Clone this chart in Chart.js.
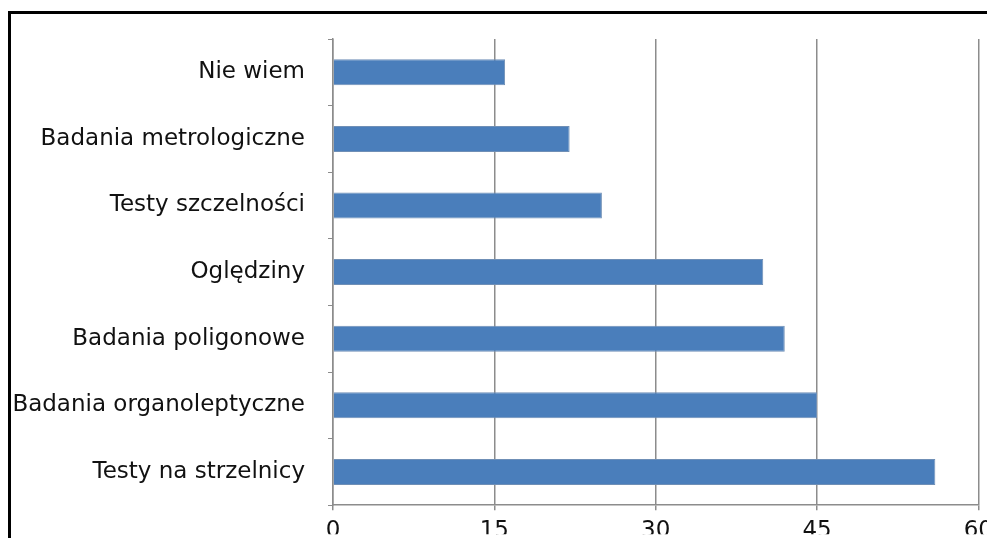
<!DOCTYPE html>
<html>
<head>
<meta charset="utf-8">
<script src="https://cdn.jsdelivr.net/npm/chart.js@4"></script>
<style>
  body { margin: 0; width: 987px; height: 538px; overflow: hidden; background: #fff; position: relative; }
  #frame { position: absolute; left: 8px; top: 11px; width: 1000px; height: 560px; border: 3px solid #000; box-sizing: border-box; }
  #wrap { position: absolute; left: 0; top: 0; width: 1000px; height: 542px; }
</style>
</head>
<body>
<div id="frame"></div>
<div id="wrap"><canvas id="myChart" width="1000" height="542"></canvas></div>
<script>
// categories and values
const categories = ['Nie wiem', 'Badania metrologiczne', 'Testy szczelności', 'Oględziny',
    'Badania poligonowe', 'Badania organoleptyczne', 'Testy na strzelnicy'];
const values = [16, 22, 25, 40, 42, 45, 56];
const xTicks = [0, 15, 30, 45, 60];

const ctx = document.getElementById("myChart").getContext("2d");
const myChart = new Chart(ctx, {
    type: 'bar',
    data: {
        labels: categories,
        datasets: [{
            data: values,
            backgroundColor: '#4a7ebb',
            borderColor: '#6f8fb6',
            borderWidth: 1,
            categoryPercentage: 1,
            barPercentage: 0.39
        }]
    },
    options: {
        indexAxis: 'y',
        responsive: false,
        animation: false,
        layout: { padding: { top: 39, right: 16, bottom: 0, left: 0 } },
        plugins: { legend: { display: false }, tooltip: { enabled: false } },
        scales: {
            x: {
                min: 0,
                max: 60,
                afterBuildTicks: (scale) => { scale.ticks = xTicks.map(v => ({ value: v })); },
                afterFit: (scale) => { scale.height = 29; },
                grid: { color: '#8c8c8c', lineWidth: 1.5, tickLength: 5, drawTicks: true },
                border: { color: '#8c8c8c', width: 1.5 },
                ticks: { color: '#111', font: { family: 'DejaVu Sans', size: 23 }, padding: 7, maxRotation: 0 }
            },
            y: {
                afterFit: (scale) => { scale.width = 333; },
                grid: { drawOnChartArea: false, color: '#8c8c8c', tickLength: 5, offset: true },
                border: { color: '#8c8c8c', width: 1.5 },
                ticks: { color: '#111', font: { family: 'DejaVu Sans', size: 23 }, padding: 23 }
            }
        }
    }
});
</script>
</body>
</html>
